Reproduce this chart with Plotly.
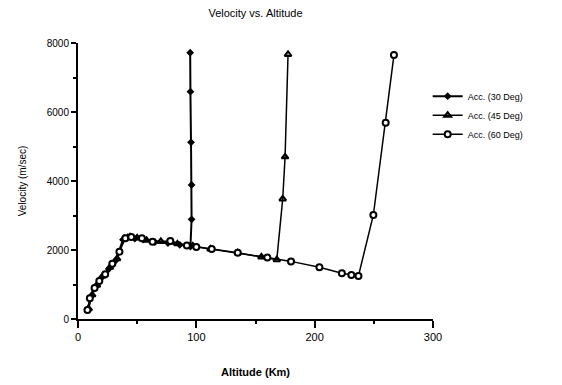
import plotly.graph_objects as go

# Altitude (km) and velocity (m/s)
alt_30 = [8, 11, 15, 20, 26, 32, 38, 42, 48, 55, 65, 76, 86, 95, 96, 96, 95.5, 95, 94.8]
vel_30 = [280, 650, 950, 1200, 1450, 1700, 2300, 2370, 2330, 2300, 2230, 2200, 2150, 2100, 2890, 3885, 5120, 6590, 7720]

alt_45 = [9, 12, 16, 21, 27, 33, 39, 44, 50, 58, 70, 84, 97, 112, 135, 155, 168, 173, 175, 177.5]
vel_45 = [300, 700, 980, 1250, 1500, 1750, 2330, 2380, 2350, 2280, 2250, 2180, 2120, 2030, 1920, 1800, 1720, 3480, 4700, 7670]

alt_60 = [8, 10, 14, 18, 23, 29, 35, 40, 45, 54, 63, 78, 92, 100, 113, 135, 160, 180, 204, 223, 231, 237, 249.6, 260, 267]
vel_60 = [260, 600, 900, 1100, 1300, 1600, 1950, 2340, 2380, 2340, 2240, 2260, 2130, 2090, 2030, 1920, 1780, 1670, 1500, 1325, 1275, 1250, 3015, 5690, 7650]

names = ["Acc. (30 Deg)", "Acc. (45 Deg)", "Acc. (60 Deg)"]
x_ticks = [0, 100, 200, 300]
y_ticks = [0, 2000, 4000, 6000, 8000]

FONT = "Liberation Sans, Arial, sans-serif"

fig = go.Figure()
fig.add_trace(go.Scatter(
    x=alt_30, y=vel_30, name=names[0], mode="lines+markers",
    line=dict(color="black", width=2),
    marker=dict(symbol="diamond", size=6, color="black"),
))
fig.add_trace(go.Scatter(
    x=alt_45, y=vel_45, name=names[1], mode="lines+markers",
    line=dict(color="black", width=1.5),
    marker=dict(symbol="triangle-up-open", size=6, color="black", line=dict(width=2)),
))
fig.add_trace(go.Scatter(
    x=alt_60, y=vel_60, name=names[2], mode="lines+markers",
    line=dict(color="black", width=1.5),
    marker=dict(symbol="circle", size=6, color="white", line=dict(color="black", width=2)),
))

fig.update_layout(
    width=562, height=385,
    margin=dict(l=78, r=129, t=43, b=66),
    paper_bgcolor="white", plot_bgcolor="white",
    font=dict(family=FONT, size=10, color="black"),
    title=dict(text="Velocity vs. Altitude", x=(78 + 433) / 2 / 562, xanchor="center",
               y=1 - 13 / 385, yanchor="middle", font=dict(size=11, family=FONT, color="black")),
    showlegend=True,
    legend=dict(x=0.985, xanchor="left", y=0.86, yanchor="top",
                font=dict(size=9, family=FONT, color="black"),
                bgcolor="rgba(0,0,0,0)", itemwidth=30, tracegroupgap=0),
)
fig.update_xaxes(
    range=[0, 300], tickvals=x_ticks, ticktext=[str(v) for v in x_ticks],
    showgrid=False, zeroline=False, showline=True, linecolor="black", linewidth=2,
    ticks="outside", ticklen=7, tickwidth=1.5, tickcolor="black",
    minor=dict(dtick=50, ticks="outside", ticklen=3, tickcolor="black"),
    title=dict(text="<b>Altitude (Km)</b>", font=dict(size=11, family=FONT), standoff=26),
    tickfont=dict(size=11, family=FONT), automargin=False,
)
fig.update_yaxes(
    range=[0, 8000], tickvals=y_ticks, ticktext=[str(v) for v in y_ticks],
    showgrid=False, zeroline=False, showline=True, linecolor="black", linewidth=2,
    ticks="outside", ticklen=5, tickwidth=1.5, tickcolor="black",
    minor=dict(dtick=1000, ticks="outside", ticklen=3, tickcolor="black"),
    title=dict(text="Velocity (m/sec)", font=dict(size=10, family=FONT), standoff=18),
    tickfont=dict(size=10, family=FONT), automargin=False,
)

fig.write_html("out.html")
